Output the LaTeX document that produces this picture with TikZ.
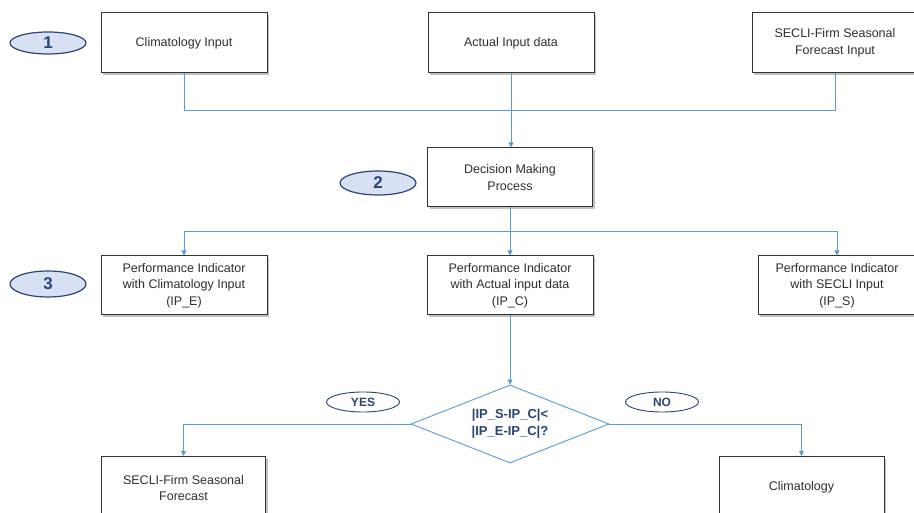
\documentclass[tikz,border=0pt]{standalone}
\usepackage{fontspec}
\setmainfont{Liberation Sans}
\usetikzlibrary{arrows.meta,shapes.geometric,shadows}
\definecolor{lineblue}{HTML}{5B9BD5}
\definecolor{navy}{HTML}{2A4474}
\definecolor{ellfill}{HTML}{D8E1F3}
\definecolor{boxtext}{HTML}{2E2E2E}
\definecolor{boxborder}{HTML}{333333}
\tikzset{
  flowbox/.style={draw=boxborder, line width=1pt, fill=white, text=boxtext,
    align=center, font=\fontsize{12.5}{16.5}\selectfont, inner sep=0pt,
    drop shadow={shadow xshift=2pt, shadow yshift=-2.5pt, opacity=0.35, fill=black!70}},
  stepnum/.style={ellipse, draw=navy, line width=1.2pt, fill=ellfill, text=navy,
    font=\fontsize{17}{19}\selectfont\bfseries, minimum width=76pt, minimum height=22pt, inner sep=0pt},
  answer/.style={ellipse, draw=navy, line width=0.9pt, fill=white, text=navy,
    font=\fontsize{12}{14}\selectfont\bfseries, minimum width=73pt, minimum height=20pt, inner sep=0pt},
  conn/.style={draw=lineblue, line width=0.8pt},
  arr/.style={conn, -{Triangle[width=5pt,length=5pt]}},
}
\begin{document}
\begin{tikzpicture}[x=1pt,y=-1pt]
\useasboundingbox (0,0) rectangle (914,513);
\clip (0,0) rectangle (914,513);
% top row
\node[flowbox, minimum width=166pt, minimum height=60pt] (clim) at (184,43) {Climatology Input};
\node[flowbox, minimum width=166pt, minimum height=60pt] (act) at (511,43) {Actual Input data};
\node[flowbox, minimum width=166pt, minimum height=60pt] (secin) at (835,43) {SECLI-Firm Seasonal\\Forecast Input};
\node[stepnum] (s1) at (48,43) {1};
% decision
\node[flowbox, minimum width=165pt, minimum height=59pt] (dec) at (510,177.5) {Decision Making\\Process};
\node[stepnum, minimum height=24pt] (s2) at (378,183) {2};
\coordinate (j1) at (511,110);
\draw[conn] (clim.south) |- (j1);
\draw[conn] (secin.south) |- (j1);
\draw[arr] (act.south) -- (act.south |- dec.north);
% performance
\node[flowbox, minimum width=166pt, minimum height=59pt] (pe) at (184,285.5) {Performance Indicator\\with Climatology Input\\(IP\_E)};
\node[flowbox, minimum width=166pt, minimum height=59pt] (pc) at (510,285.5) {Performance Indicator\\with Actual input data\\(IP\_C)};
\node[flowbox, minimum width=158pt, minimum height=59pt] (ps) at (837,285.5) {Performance Indicator\\with SECLI Input\\(IP\_S)};
\node[stepnum, minimum height=26pt] (s3) at (48,284) {3};
\coordinate (j2) at (510,231);
\draw[conn] (dec.south) -- (j2);
\draw[arr] (j2) -| (pe.north);
\draw[arr] (j2) -| (ps.north);
\draw[arr] (j2) -- (pc.north);
% diamond
\node[diamond, draw=lineblue, line width=0.9pt, fill=white, text=navy, aspect=2.55,
  minimum width=198pt, minimum height=78pt, inner sep=0pt, align=center,
  font=\fontsize{13}{17}\selectfont\bfseries] (dia) at (510,424) {|IP\_S-IP\_C|<\\|IP\_E-IP\_C|?};
\draw[arr] (pc.south) -- (dia.north);
\node[answer] (yes) at (363,402) {YES};
\node[answer] (no) at (662,402) {NO};
% bottom
\node[flowbox, minimum width=164pt, minimum height=60pt, anchor=north] (sf) at (183.5,456) {};
\node[text=boxtext, align=center, font=\fontsize{12.5}{16.5}\selectfont] (sft) at (183.5,488) {SECLI-Firm Seasonal\\Forecast};
\node[flowbox, minimum width=165pt, minimum height=60pt, anchor=north] (cl) at (801.5,456) {};
\node[text=boxtext, font=\fontsize{12.5}{16.5}\selectfont] (clt) at (801.5,487) {Climatology};
\draw[arr] (dia.west) -| (sf.north);
\draw[arr] (dia.east) -| (cl.north);
\end{tikzpicture}
\end{document}
